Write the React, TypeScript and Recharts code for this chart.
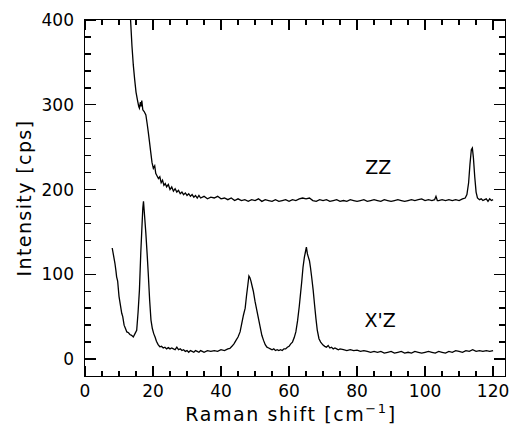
import { Line, LineChart, ReferenceDot, XAxis, YAxis } from "recharts";

// ZZ spectrum (Raman shift in cm-1, intensity in cps)
const zzShift = [
  13.4, 13.8, 14.2, 14.6, 15.0, 15.4, 15.8, 16.0, 16.3, 16.5, 16.7, 17.0, 17.4, 17.9, 18.3, 18.6,
  19.0, 19.3, 19.7, 20.1, 20.5, 20.8, 21.2, 21.6, 22.0, 22.4, 22.8, 23.2, 23.6, 24.0, 24.5, 25.0,
  25.5, 26.0, 26.5, 27.0, 27.5, 28.0, 28.5, 29, 29.5, 30, 30.5, 31, 31.5, 32, 32.5, 33, 33.5, 34,
  35, 36, 37, 38, 39, 40, 41, 42, 43, 44, 45, 46, 47, 48, 49, 50, 51, 52, 53, 54, 55, 56, 57, 58,
  59, 60, 61, 62, 63, 64, 65, 66, 67, 68, 69, 70, 71, 72, 73, 74, 75, 76, 77, 78, 79, 80, 81, 82,
  83, 84, 85, 86, 87, 88, 89, 90, 91, 92, 93, 94, 95, 96, 97, 98, 99, 100, 101, 102, 102.8, 103.2,
  103.6, 104, 105, 106, 107, 108, 109, 110, 111, 111.8, 112.3, 112.8, 113.2, 113.6, 113.9, 114.2,
  114.6, 115, 115.4, 116, 116.5, 117, 117.5, 118, 118.5, 119, 119.5, 120
];
const zzIntensity = [
  400, 370, 347, 330, 315, 306, 298, 296, 303, 298, 305, 294, 292, 288, 277, 268,
  255, 245, 232, 225, 228, 219, 216, 213, 215, 208, 211, 205, 207, 203, 206, 200,
  203, 198, 201, 197, 199, 195, 197, 194, 196, 193, 195, 192, 194, 191, 193, 190, 193, 190,
  192, 189, 191, 190, 192, 189, 190, 188, 190, 187, 189, 187, 188, 186, 188, 187, 189, 186, 188, 187, 186, 188, 186, 187,
  188, 186, 188, 187, 189, 190, 189, 190, 187, 186, 188, 187, 188, 186, 187, 188, 186, 187, 186, 188, 187, 186, 187, 188,
  186, 187, 188, 187, 186, 188, 187, 186, 187, 188, 187, 186, 187, 188, 187, 188, 189, 187, 188, 187, 188, 192,
  187, 187, 188, 187, 188, 187, 188, 187, 189, 190, 194, 208, 230, 247, 249, 238,
  215, 197, 190, 188, 189, 187, 188, 189, 186, 189, 187, 188
];

// X'Z spectrum
const xzShift = [
  8.0, 8.4, 8.8, 9.1, 9.3, 9.6, 10.0, 10.4, 10.8, 11.1, 11.5, 11.9, 12.3, 12.8, 13.2, 13.7, 14.2,
  14.7, 15.2, 15.6, 16.0, 16.4, 16.7, 17.0, 17.2, 17.5, 17.9, 18.3, 18.6, 19.0, 19.4, 19.8, 20.2,
  20.6, 21.0, 21.5, 22.0, 22.5, 23, 23.5, 24, 24.5, 25, 25.5, 26, 26.5, 27, 27.5, 28, 28.5, 29,
  29.5, 30, 30.5, 31, 31.5, 32, 32.5, 33, 33.5, 34, 34.5, 35, 36, 37, 38, 39, 40, 41, 42, 42.6,
  43.2, 43.8, 44.4, 45, 45.6, 46.1, 46.6, 47.1, 47.5, 47.9, 48.2, 48.5, 48.8, 49.2, 49.5, 50, 50.5,
  51, 51.5, 52, 52.5, 53, 53.5, 54, 54.5, 55, 55.5, 56, 56.5, 57, 57.5, 58, 58.5, 59, 59.5, 60,
  60.5, 61, 61.5, 62, 62.5, 63, 63.4, 63.7, 64.1, 64.5, 64.8, 65.1, 65.4, 65.7, 66.0, 66.3, 66.7,
  67.1, 67.5, 67.9, 68.3, 68.8, 69.3, 70, 70.5, 71, 71.5, 72, 72.5, 73, 73.5, 74, 74.5, 75, 76,
  77, 78, 79, 80, 81, 82, 83, 84, 85, 86, 87, 88, 89, 90, 91, 92, 93, 94, 95, 96, 97, 98, 99, 100,
  101, 102, 103, 104, 105, 106, 107, 108, 109, 110, 111, 112, 113, 114, 115, 116, 117, 118, 119, 120
];
const xzIntensity = [
  131, 122, 113, 104, 97, 92, 74, 64, 54, 50, 40, 36, 32, 31, 29, 28, 26,
  30, 34, 55, 81, 125, 152, 178, 186, 170, 148, 122, 101, 70, 46, 36, 30,
  26, 21, 17, 14.5, 15, 13, 14, 12, 13.5, 12, 13, 12, 11, 14, 11, 12, 10, 11,
  9, 10, 8, 10, 9, 8, 10, 9, 8, 10, 9, 8, 10, 9, 10, 9, 11, 10, 12, 12.6,
  15, 18, 22, 26, 32, 42, 52, 60, 75, 88, 98, 96, 92, 85, 80, 68, 58,
  48, 38, 28, 22, 17, 14, 13, 12, 11, 12, 10, 11, 10, 11, 10, 12, 12, 14, 15,
  18, 20, 25, 32, 45, 62, 78, 90, 108, 120, 126, 132, 124, 120, 116, 108, 95,
  81, 64, 48, 34, 24, 20, 16.5, 15, 14, 16, 13, 14, 12, 13, 12, 11, 12, 11,
  10, 11, 10, 10.5, 9, 10, 9, 8, 9, 8, 9, 7, 8, 9, 7, 8, 9, 7, 8, 7, 9, 8, 7, 8,
  9, 8, 7, 9, 8, 7, 9, 8, 10, 9, 8, 10, 9, 11, 9, 10, 9, 10, 9, 10
];

const xTicks = [0, 5, 10, 15, 20, 25, 30, 35, 40, 45, 50, 55, 60, 65, 70, 75, 80, 85, 90, 95, 100, 105, 110, 115, 120];
const yTicks = [0, 20, 40, 60, 80, 100, 120, 140, 160, 180, 200, 220, 240, 260, 280, 300, 320, 340, 360, 380, 400];

const zzData = zzShift.map((x, i) => ({ x, y: zzIntensity[i] }));
const xzData = xzShift.map((x, i) => ({ x, y: xzIntensity[i] }));

const xDomain = [0, 123.5];
const yDomain = [-20, 400];

const font = "'DejaVu Sans', sans-serif";
const ink = "#000";
const W = 512;
const H = 427;

// plot box, from the axis sizes below
const box = { left: 85, top: 20, right: W - 7, bottom: H - 51 };
const px = (v: number) => box.left + ((v - xDomain[0]) / (xDomain[1] - xDomain[0])) * (box.right - box.left);
const py = (v: number) => box.bottom - ((v - yDomain[0]) / (yDomain[1] - yDomain[0])) * (box.bottom - box.top);

function BottomLabel({ x, y, payload }: any) {
  if (payload.value % 20 !== 0) return <g />;
  return (
    <text x={x} y={y + 21} textAnchor="middle" fontSize={17} fontFamily={font} fill={ink}>
      {payload.value}
    </text>
  );
}

function LeftLabel({ x, y, payload }: any) {
  if (payload.value % 100 !== 0) return <g />;
  return (
    <text x={x - 11} y={y + 6} textAnchor="end" fontSize={17} fontFamily={font} fill={ink}>
      {payload.value}
    </text>
  );
}

function textMark(label: string) {
  return (p: any) => (
    <text x={p.cx} y={p.cy} textAnchor="middle" dominantBaseline="central" fontSize={19} fontFamily={font} fill={ink}>
      {label}
    </text>
  );
}

function mark(left: number, top: number, width: number, height: number, key: string) {
  return <div key={key} style={{ position: "absolute", left, top, width, height, background: ink }} />;
}

// frame and inward ticks on all four sides
function Frame() {
  const t = 1.4;
  const items: any[] = [];
  xTicks.forEach((v) => {
    const len = v % 20 === 0 ? 10 : 5;
    items.push(mark(px(v) - t / 2, box.bottom - len, t, len, `b${v}`));
    items.push(mark(px(v) - t / 2, box.top, t, len, `t${v}`));
  });
  yTicks.forEach((v) => {
    const len = v % 100 === 0 ? 11 : 6;
    items.push(mark(box.left, py(v) - t / 2, len, t, `l${v}`));
    items.push(mark(box.right - len, py(v) - t / 2, len, t, `r${v}`));
  });
  return (
    <div style={{ position: "absolute", left: 0, top: 0, width: W, height: H, pointerEvents: "none" }}>
      <div
        style={{
          position: "absolute",
          left: box.left - 0.75,
          top: box.top - 0.75,
          width: box.right - box.left + 1.5,
          height: box.bottom - box.top + 1.5,
          border: `1.5px solid ${ink}`,
          boxSizing: "border-box"
        }}
      />
      {items}
    </div>
  );
}

export default function App() {
  return (
    <div style={{ position: "absolute", left: 0, top: 0, width: W, height: H, background: "#fff" }}>
      <LineChart width={W} height={H} margin={{ top: 0, right: 0, bottom: 0, left: 0 }}>
        <XAxis
          xAxisId="b"
          dataKey="x"
          type="number"
          domain={xDomain}
          ticks={xTicks}
          interval={0}
          height={51}
          tickSize={0}
          tickMargin={0}
          tickLine={false}
          tick={<BottomLabel />}
          axisLine={false}
          label={{
            position: "insideBottom",
            content: () => (
              <text x={291} y={421} textAnchor="middle" fontSize={19} fontFamily={font} fill={ink} letterSpacing={1.6}>
                Raman shift [cm
                <tspan dy={-8} fontSize={13}>−1</tspan>
                <tspan dy={8}>]</tspan>
              </text>
            )
          }}
        />
        <XAxis xAxisId="t" orientation="top" type="number" domain={xDomain} height={20} tick={false} tickLine={false} axisLine={false} />
        <YAxis
          yAxisId="l"
          type="number"
          domain={yDomain}
          ticks={yTicks}
          interval={0}
          width={85}
          tickSize={0}
          tickMargin={0}
          tickLine={false}
          tick={<LeftLabel />}
          axisLine={false}
          label={{
            position: "insideLeft",
            content: () => (
              <text
                x={24}
                y={198}
                transform="rotate(-90 24 198)"
                textAnchor="middle"
                dominantBaseline="central"
                fontSize={19}
                fontFamily={font}
                fill={ink}
                letterSpacing={1.4}
              >
                Intensity [cps]
              </text>
            )
          }}
        />
        <YAxis yAxisId="r" orientation="right" type="number" domain={yDomain} width={7} tick={false} tickLine={false} axisLine={false} />
        <Line
          xAxisId="b"
          yAxisId="l"
          data={zzData}
          dataKey="y"
          type="linear"
          stroke={ink}
          strokeWidth={1.3}
          dot={false}
          isAnimationActive={false}
        />
        <Line
          xAxisId="b"
          yAxisId="l"
          data={xzData}
          dataKey="y"
          type="linear"
          stroke={ink}
          strokeWidth={1.3}
          dot={false}
          isAnimationActive={false}
        />
        <ReferenceDot xAxisId="b" yAxisId="l" x={86.2} y={226} r={0} shape={textMark("ZZ")} />
        <ReferenceDot xAxisId="b" yAxisId="l" x={86.8} y={46} r={0} shape={textMark("X'Z")} />
      </LineChart>
      <Frame />
    </div>
  );
}
